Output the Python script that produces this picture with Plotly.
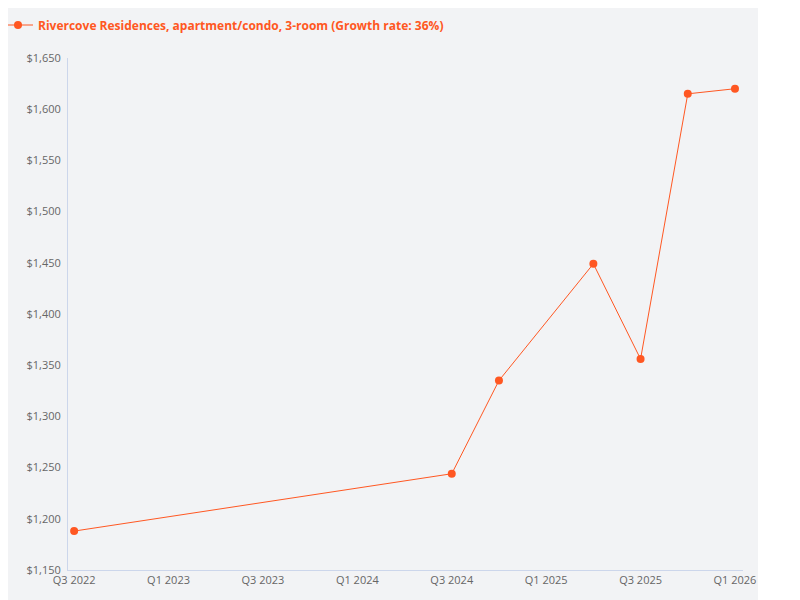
import plotly.graph_objects as go

quarters = ["Q3 2022", "Q3 2024", "Q4 2024", "Q2 2025", "Q3 2025", "Q4 2025", "Q1 2026"]
qidx = [0, 8, 9, 11, 12, 13, 14]
values = [1188, 1244, 1335, 1449, 1356, 1615, 1620]
tick_labels = ["Q3 2022", "Q1 2023", "Q3 2023", "Q1 2024", "Q3 2024", "Q1 2025", "Q3 2025", "Q1 2026"]
tick_pos = [0, 2, 4, 6, 8, 10, 12, 14]

c = "#ff5722"
fig = go.Figure(go.Scatter(x=qidx, y=values, mode="lines+markers", text=quarters,
    line=dict(color=c, width=1), marker=dict(color=c, size=8),
    name="<b>Rivercove Residences, apartment/condo, 3-room (Growth rate: 36%)</b>"))

W = 675.0
fig.add_shape(type="rect", xref="paper", yref="paper", x0=-60/W, x1=690/W, y0=-38/512, y1=50/512 + 1,
              fillcolor="#f2f3f5", line_width=0, layer="below")
fig.update_layout(
    width=800, height=600, margin=dict(l=60, r=65, t=50, b=38, autoexpand=False),
    paper_bgcolor="white", plot_bgcolor="rgba(0,0,0,0)",
    font=dict(family="Open Sans", color="#666", size=11),
    showlegend=True,
    legend=dict(orientation="h", x=-70/W, y=1 + 33/512, xanchor="left", yanchor="middle",
                itemwidth=30, font=dict(color=c, size=12), bgcolor="rgba(0,0,0,0)"),
    xaxis=dict(range=[-0.13, 14.17], tickvals=tick_pos, ticktext=tick_labels, showgrid=False,
               automargin=False, zeroline=False, showline=True, linecolor="#ccd6eb", ticks=""),
    yaxis=dict(range=[1150, 1650], dtick=50, tickprefix="$", tickformat=",", showgrid=False,
               automargin=False, zeroline=False, showline=True, linecolor="#ccd6eb", ticks="",
               ticklabelstandoff=4),
)
fig.write_html("out.html")
